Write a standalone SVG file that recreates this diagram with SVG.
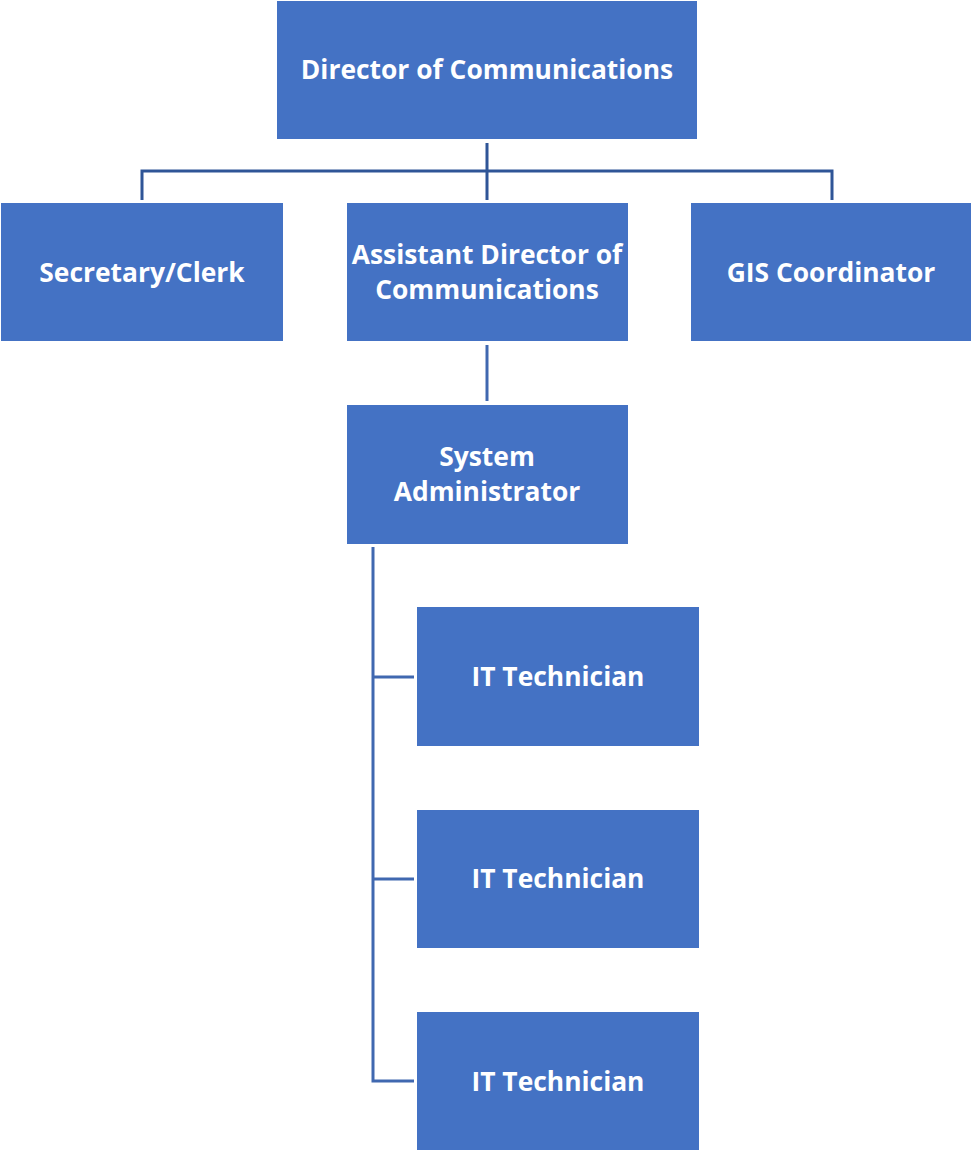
<svg xmlns="http://www.w3.org/2000/svg" width="972" height="1151" viewBox="0 0 972 1151">
<style>
.box{fill:#4472C4;}
.t{fill:#fff;font-family:"Open Sans","Liberation Sans",sans-serif;font-weight:700;font-size:26.4px;text-anchor:middle;}
.c1{fill:none;stroke:#2F5597;stroke-width:3;}
.c2{fill:none;stroke:#4068B0;stroke-width:3;}
</style>
<rect width="972" height="1151" fill="#fff"/>
<g id="connectors">
<path class="c1" d="M487 143V171M142 200V171H832V200M487 171V200"/>
<path class="c2" d="M487 345V401"/>
<path class="c2" d="M373 547V1081H414M373 677H414M373 879H414"/>
</g>
<g id="director"><rect class="box" x="277" y="1" width="420" height="138"/><text class="t" x="487" y="79">Director of Communications</text></g>
<g id="secretary"><rect class="box" x="1" y="203" width="282" height="138"/><text class="t" x="142" y="282">Secretary/Clerk</text></g>
<g id="assistant"><rect class="box" x="347" y="203" width="281" height="138"/><text class="t" x="487" y="264">Assistant Director of</text><text class="t" x="487" y="299">Communications</text></g>
<g id="gis"><rect class="box" x="691" y="203" width="280" height="138"/><text class="t" x="831" y="282">GIS Coordinator</text></g>
<g id="sysadmin"><rect class="box" x="347" y="405" width="281" height="139"/><text class="t" x="487" y="466">System</text><text class="t" x="487" y="501">Administrator</text></g>
<g id="it1"><rect class="box" x="417" y="607" width="282" height="139"/><text class="t" x="558" y="686">IT Technician</text></g>
<g id="it2"><rect class="box" x="417" y="810" width="282" height="138"/><text class="t" x="558" y="888">IT Technician</text></g>
<g id="it3"><rect class="box" x="417" y="1012" width="282" height="138"/><text class="t" x="558" y="1091">IT Technician</text></g>
</svg>
